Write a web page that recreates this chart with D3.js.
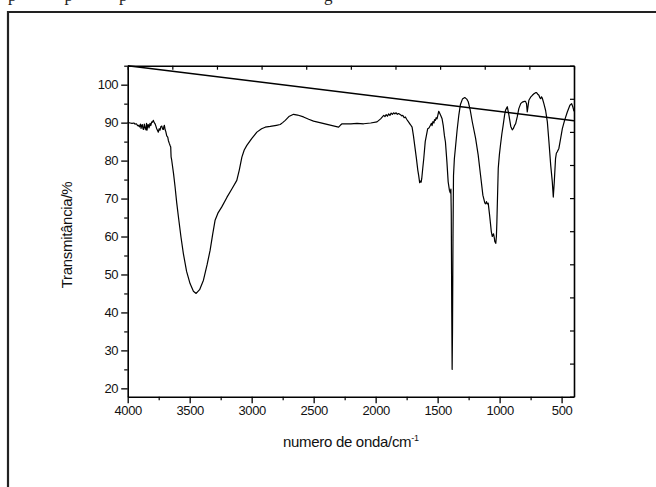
<!DOCTYPE html>
<html>
<head>
<meta charset="utf-8">
<script src="https://cdn.jsdelivr.net/npm/d3@7"></script>
<style>
  html, body { margin: 0; padding: 0; background: #fff; }
  svg { display: block; }
  .tick text { font-family: "Liberation Sans", Arial, sans-serif; font-size: 13px; letter-spacing: -0.4px; fill: #111; }
  .title { font-family: "Liberation Sans", Arial, sans-serif; font-size: 15px; fill: #111; letter-spacing: -0.3px; }
</style>
</head>
<body>
<div id="chart"></div>
<script>
// wavenumber (cm-1)
var wavenumber = [
  4000, 3995, 3980, 3965, 3950, 3941, 3930, 3920, 3914, 3905, 3898, 3892, 3886, 3882, 3876, 3871,
  3866, 3860, 3853, 3848, 3844, 3838, 3834, 3828, 3820, 3814, 3806, 3800, 3793, 3786, 3779, 3772,
  3766, 3760, 3753, 3746, 3739, 3732, 3725, 3718, 3712, 3708, 3704, 3698, 3693, 3685, 3677, 3672,
  3665, 3658, 3653, 3650, 3645, 3630, 3618, 3605, 3591, 3570, 3551, 3525, 3497, 3470, 3448, 3420,
  3389, 3360, 3335, 3315, 3295, 3270, 3241, 3200, 3160, 3120, 3100, 3079, 3060, 3039, 3000, 2958,
  2920, 2891, 2850, 2800, 2770, 2750, 2729, 2700, 2662, 2630, 2582, 2540, 2501, 2450, 2400, 2350,
  2299, 2285, 2271, 2200, 2150, 2097, 2040, 1989, 1960, 1935, 1925, 1915, 1905, 1895, 1885, 1875,
  1865, 1855, 1845, 1835, 1825, 1815, 1800, 1790, 1780, 1770, 1760, 1750, 1735, 1720, 1706, 1695,
  1685, 1671, 1660, 1653, 1645, 1638, 1633, 1628, 1620, 1612, 1600, 1590, 1580, 1570, 1558, 1550,
  1545, 1538, 1530, 1525, 1518, 1512, 1505, 1498, 1491, 1485, 1475, 1464, 1455, 1445, 1437, 1425,
  1415, 1405, 1398, 1393, 1390, 1386, 1383, 1380, 1376, 1372, 1365, 1356, 1343, 1329, 1316, 1300,
  1281, 1265, 1253, 1237, 1221, 1194, 1173, 1154, 1135, 1119, 1112, 1106, 1099, 1092, 1081, 1067,
  1059, 1049, 1042, 1039, 1031, 1026, 1022, 1011, 1002, 993, 982, 971, 960, 952, 938, 925,
  910, 898, 890, 880, 871, 858, 845, 830, 817, 800, 791, 783, 777, 770, 764, 750,
  736, 723, 710, 702, 690, 683, 676, 669, 662, 656, 643, 629, 615, 602, 588, 575,
  567, 559, 549, 542, 535, 522, 508, 494, 476, 454, 433, 419, 410, 400
];

// transmittance (%) at each wavenumber
var transmittance = [
  90.0, 90.0, 89.9, 89.8, 89.9, 89.6, 89.7, 89.2, 89.3, 88.9, 89.6, 88.5, 89.4, 89.5, 88.3, 88.2,
  89.6, 88.7, 88.1, 89.8, 88.0, 89.4, 89.5, 88.6, 89.8, 89.2, 90.2, 90.1, 90.6, 90.0, 89.7, 89.0,
  88.4, 88.0, 87.5, 88.4, 88.0, 89.0, 89.1, 88.3, 88.2, 89.0, 89.3, 88.1, 87.7, 86.5, 86.2, 85.3,
  84.6, 84.0, 83.6, 81.0, 80.1, 76.5, 73.1, 69.0, 65.2, 59.8, 55.5, 50.8, 47.6, 45.6, 45.0, 46.0,
  48.5, 52.5, 56.4, 60.5, 64.3, 66.3, 67.8, 70.3, 72.5, 74.8, 77.5, 80.9, 82.8, 84.0, 85.8, 87.5,
  88.4, 88.8, 89.0, 89.3, 89.5, 90.0, 90.6, 91.6, 92.2, 92.0, 91.5, 90.9, 90.4, 90.0, 89.6, 89.2,
  88.8, 89.3, 89.7, 89.7, 89.8, 89.7, 89.9, 90.2, 91.0, 91.9, 91.6, 92.1, 91.7, 92.3, 91.9, 92.5,
  92.2, 92.6, 92.3, 92.6, 92.2, 92.4, 92.1, 91.8, 91.9, 91.3, 91.5, 90.9, 90.2, 89.5, 88.8, 86.5,
  84.0, 80.5, 77.5, 76.1, 74.2, 74.6, 74.3, 75.3, 78.0, 80.5, 85.0, 86.7, 88.4, 88.6, 89.3, 89.8,
  89.2, 90.3, 89.9, 90.8, 90.6, 91.3, 91.0, 92.0, 93.0, 92.6, 91.9, 91.0, 89.3, 86.5, 84.9, 79.6,
  74.4, 72.2, 71.5, 72.5, 66.0, 40.0, 25.0, 35.0, 60.0, 76.0, 80.5, 83.5, 88.0, 92.0, 94.8, 96.2,
  96.6, 96.2, 95.5, 93.3, 90.3, 85.9, 81.5, 76.2, 70.9, 68.8, 68.6, 69.2, 68.6, 68.8, 65.7, 61.3,
  60.0, 60.7, 59.5, 58.7, 58.2, 60.0, 63.9, 78.0, 81.5, 84.1, 87.0, 89.4, 92.0, 93.3, 94.2, 92.0,
  89.0, 88.1, 88.4, 89.2, 89.7, 91.5, 93.7, 95.0, 95.4, 95.6, 95.6, 95.0, 92.8, 94.5, 95.9, 96.7,
  97.2, 97.6, 97.9, 97.9, 97.4, 97.2, 96.6, 96.3, 96.8, 96.5, 95.0, 93.2, 90.2, 84.9, 78.8, 74.4,
  70.4, 74.4, 80.5, 82.0, 82.3, 83.2, 85.8, 88.4, 90.6, 92.8, 94.6, 95.0, 94.2, 93.0
];

var xTicks = [4000, 3500, 3000, 2500, 2000, 1500, 1000, 500];
var yTicks = [20, 30, 40, 50, 60, 70, 80, 90, 100];

// second layer (straight line, top and right axes), 0..10 both ways
var lineX = [0, 10];
var lineY = [10, 8.34];

(function () {
  var W = 656, H = 487,
      pLeft = 127.7, pRight = 574, pTop = 65.7, pBottom = 396.7;

  var svg = d3.select('#chart').append('svg').attr('width', W).attr('height', H);

  // page frame
  svg.append('path')
    .attr('d', 'M8,487V12H656')
    .attr('fill', 'none').attr('stroke', '#222').attr('stroke-width', 2.2);

  // cut-off text from the page above
  svg.append('g').selectAll('text')
    .data([{ c: 'p', x: 8 }, { c: 'p', x: 64.5 }, { c: 'p', x: 119 }, { c: 'g', x: 324 }])
    .enter().append('text')
    .attr('x', function (d) { return d.x; })
    .attr('y', 0.5)
    .style('font-family', '"Liberation Serif", serif')
    .style('font-size', '17px')
    .attr('fill', '#222')
    .text(function (d) { return d.c; });

  var x = d3.scaleLinear().domain([4000, 400]).range([pLeft, pRight]),
      y = d3.scaleLinear().domain([17.8, 105]).range([pBottom, pTop]),
      x2 = d3.scaleLinear().domain([0, 10]).range([pLeft, pRight]),
      y2 = d3.scaleLinear().domain([0, 10]).range([pBottom, pTop]);

  // minor ticks
  var xMinor = d3.range(3750, 400, -500),
      yMinor = d3.range(25, 106, 10);

  svg.append('g')
    .attr('transform', 'translate(0,' + pBottom + ')')
    .call(d3.axisBottom(x).tickValues(xMinor).tickSize(3.5).tickFormat(''))
    .call(function (g) { g.select('.domain').remove(); })
    .selectAll('line').attr('stroke-width', 1.2);

  svg.append('g')
    .attr('transform', 'translate(' + pLeft + ',0)')
    .call(d3.axisLeft(y).tickValues(yMinor).tickSize(3.5).tickFormat(''))
    .call(function (g) { g.select('.domain').remove(); })
    .selectAll('line').attr('stroke-width', 1.2);

  // major axes
  var gx = svg.append('g')
    .attr('transform', 'translate(0,' + pBottom + ')')
    .call(d3.axisBottom(x).tickValues(xTicks).tickSize(6.5).tickSizeOuter(0).tickPadding(3).tickFormat(d3.format('d')));
  gx.selectAll('line').attr('stroke-width', 1.3);

  var gy = svg.append('g')
    .attr('transform', 'translate(' + pLeft + ',0)')
    .call(d3.axisLeft(y).tickValues(yTicks).tickSize(6.5).tickSizeOuter(0).tickPadding(3).tickFormat(d3.format('d')));
  gy.selectAll('line').attr('stroke-width', 1.3);

  // top and right axes of the second layer, ticks inward
  var gt = svg.append('g')
    .attr('transform', 'translate(0,' + pTop + ')')
    .call(d3.axisBottom(x2).ticks(10).tickSize(4).tickSizeOuter(0).tickFormat(''));
  gt.selectAll('line').attr('stroke-width', 1.2);

  var gr = svg.append('g')
    .attr('transform', 'translate(' + pRight + ',0)')
    .call(d3.axisLeft(y2).ticks(10).tickSize(4).tickSizeOuter(0).tickFormat(''));
  gr.selectAll('line').attr('stroke-width', 1.2);

  svg.selectAll('.domain').attr('stroke', '#000').attr('stroke-width', 1.6);

  // spectrum
  var pts = wavenumber.map(function (w, i) { return [w, transmittance[i]]; });
  svg.append('path')
    .datum(pts)
    .attr('fill', 'none')
    .attr('stroke', '#000')
    .attr('stroke-width', 1.2)
    .attr('stroke-linejoin', 'round')
    .attr('d', d3.line().x(function (d) { return x(d[0]); }).y(function (d) { return y(d[1]); }));

  // straight line
  svg.append('path')
    .datum(lineX.map(function (v, i) { return [v, lineY[i]]; }))
    .attr('fill', 'none')
    .attr('stroke', '#000')
    .attr('stroke-width', 1.5)
    .attr('d', d3.line().x(function (d) { return x2(d[0]); }).y(function (d) { return y2(d[1]); }));

  // axis titles
  var xt = svg.append('text')
    .attr('class', 'title')
    .attr('x', (pLeft + pRight) / 2)
    .attr('y', 446.5)
    .attr('text-anchor', 'middle');
  xt.append('tspan').text('numero de onda/cm');
  xt.append('tspan').attr('dy', -6).style('font-size', '9px').text('-1');

  svg.append('text')
    .attr('class', 'title')
    .attr('transform', 'translate(72,235) rotate(-90)')
    .attr('text-anchor', 'middle')
    .text('Transmitância/%');
})();
</script>
</body>
</html>
